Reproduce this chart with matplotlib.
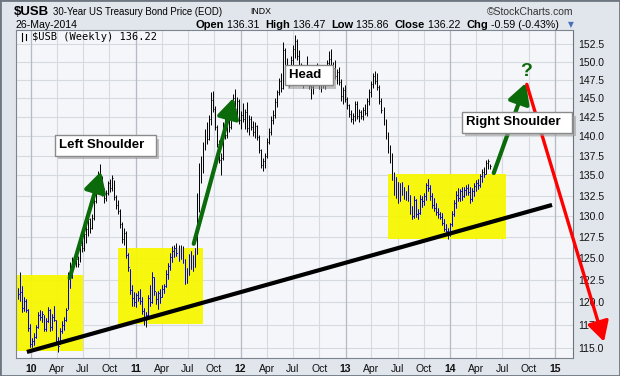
import numpy as np
import pandas as pd
import matplotlib
matplotlib.use("Agg")
import matplotlib.pyplot as plt
import matplotlib.dates as mdates
import matplotlib.patheffects as pe
from matplotlib.collections import LineCollection
from matplotlib.patches import Rectangle
from matplotlib.ticker import FixedLocator, FormatStrFormatter, NullLocator

plt.rcParams["font.family"] = ["Liberation Sans", "DejaVu Sans"]

# ======= Data (weekly bars, $USB) =======
first_week = "2009-11-16"

week_high = [
    121.6, 123.4, 121.8, 120.6, 120.4, 119.3, 117.6, 116.1, 116.6, 117.5, 118.9, 119.1, 119.0,
    118.6, 118.3, 119.5, 119.3, 118.7, 119.6, 118.0, 116.2, 117.2, 117.9, 118.4, 119.4, 123.4,
    124.6, 125.2, 125.2, 125.1, 125.3, 127.0, 127.8, 128.3, 128.9, 130.1, 129.8, 130.2, 132.3,
    134.2, 135.6, 136.4, 134.9, 133.4, 133.2, 134.3, 134.6, 135.0, 134.4, 132.6, 132.0, 130.8,
    129.3, 128.6, 128.2, 125.6, 123.8, 122.0, 121.2, 121.0, 121.3, 121.5, 120.6, 119.4, 118.9,
    120.8, 121.9, 123.4, 122.9, 121.2, 121.3, 121.5, 121.9, 122.1, 123.7, 124.5, 125.6, 126.4,
    126.6, 126.8, 126.5, 126.6, 126.4, 124.9, 123.9, 125.5, 125.8, 125.4, 126.2, 132.8, 136.5,
    137.5, 139.3, 141.0, 141.9, 142.8, 145.8, 146.0, 144.0, 141.5, 139.5, 137.8, 141.8, 142.4,
    142.8, 143.1, 144.2, 145.6, 146.3, 145.2, 144.9, 143.3, 144.4, 143.6, 144.5, 142.8, 142.6,
    142.0, 141.8, 141.5, 140.2, 138.4, 137.2, 137.8, 139.8, 141.1, 142.6, 143.4, 145.0, 146.2,
    147.8, 148.5, 152.8, 152.0, 150.6, 149.0, 150.8, 152.3, 153.8, 153.2, 151.6, 149.8, 148.6,
    149.6, 150.8, 148.6, 147.2, 147.8, 149.2, 149.8, 148.6, 147.8, 148.4, 148.3, 150.3, 151.5,
    151.8, 150.0, 150.2, 149.0, 149.3, 147.6, 146.6, 146.8, 145.2, 144.2, 143.4, 143.0, 144.7,
    144.6, 143.6, 143.5, 143.8, 144.2, 145.0, 146.3, 147.4, 148.4, 148.8, 148.5, 146.8, 145.0,
    143.8, 142.2, 140.6, 138.9, 137.8, 135.4, 134.8, 134.2, 134.0, 134.2, 133.6, 133.0, 133.8,
    132.6, 131.2, 132.4, 132.1, 130.8, 132.6, 132.5, 132.8, 134.1, 134.6, 133.8, 132.8, 132.2,
    131.6, 131.0, 130.5, 130.4, 129.6, 129.0, 128.6, 129.2, 130.6, 131.9, 133.0, 133.4, 133.3,
    133.6, 133.5, 133.8, 133.9, 133.5, 133.4, 134.0, 134.4, 134.6, 135.2, 135.8, 136.0, 137.0,
    137.1, 136.47,
]

week_low = [
    120.4, 120.2, 118.9, 119.0, 118.9, 116.8, 115.1, 115.1, 115.3, 116.1, 117.2, 118.1, 117.8,
    116.8, 116.9, 117.8, 116.8, 117.0, 117.9, 115.4, 114.6, 115.4, 116.6, 117.0, 117.9, 119.3,
    121.6, 122.7, 124.1, 124.0, 124.0, 124.6, 125.7, 125.9, 126.8, 127.6, 128.0, 128.4, 129.5,
    131.6, 133.2, 134.7, 132.4, 131.6, 131.8, 132.6, 132.9, 133.0, 131.9, 130.9, 130.2, 128.6,
    126.8, 126.5, 125.0, 123.5, 120.9, 119.6, 119.6, 119.5, 120.2, 119.8, 118.7, 117.5, 117.3,
    118.4, 119.6, 119.9, 120.8, 119.8, 119.3, 119.9, 120.6, 121.0, 121.7, 122.6, 123.6, 124.6,
    125.1, 125.3, 124.7, 124.9, 124.5, 122.1, 122.2, 123.1, 123.8, 123.5, 124.0, 125.5, 130.5,
    134.0, 135.3, 138.2, 139.0, 139.5, 141.4, 143.2, 140.8, 138.6, 136.5, 135.1, 137.0, 139.6,
    139.8, 140.6, 140.9, 142.9, 143.1, 142.4, 141.6, 140.9, 141.8, 140.9, 140.6, 140.2, 140.8,
    140.0, 139.8, 139.5, 137.8, 135.9, 135.5, 135.9, 137.2, 139.0, 140.2, 141.6, 142.4, 143.8,
    145.5, 145.8, 146.3, 148.4, 147.0, 146.5, 148.4, 149.4, 150.6, 150.3, 148.8, 146.8, 146.4,
    147.3, 148.4, 146.3, 144.9, 145.6, 146.8, 147.6, 146.3, 145.8, 146.4, 146.3, 147.6, 149.2,
    149.0, 147.8, 147.6, 147.0, 146.8, 144.7, 144.3, 144.5, 143.6, 142.5, 141.8, 141.6, 142.0,
    142.3, 141.8, 142.2, 142.1, 142.8, 142.6, 144.1, 145.2, 146.4, 147.0, 146.2, 144.2, 143.0,
    141.4, 139.6, 137.8, 136.6, 134.4, 132.6, 132.2, 131.6, 131.8, 132.6, 132.1, 132.0, 131.8,
    130.2, 129.6, 129.8, 129.9, 129.7, 130.2, 131.1, 131.3, 131.9, 133.0, 132.0, 131.0, 130.6,
    130.1, 129.8, 129.6, 128.9, 128.2, 127.8, 127.3, 127.6, 128.8, 130.0, 131.0, 131.8, 131.8,
    132.0, 132.3, 132.6, 132.6, 131.6, 131.8, 132.4, 133.1, 133.3, 133.6, 134.2, 134.8, 135.2,
    135.8, 135.86,
]

week_close = [
    120.9, 121.2, 119.4, 120.1, 119.2, 117.2, 115.5, 115.8, 116.2, 117.3, 118.6, 118.4, 118.7,
    117.1, 117.9, 119.2, 117.3, 118.4, 118.1, 115.8, 115.2, 116.9, 117.5, 118.1, 119.1, 122.7,
    123.0, 124.8, 124.5, 124.9, 124.4, 126.6, 126.2, 127.9, 128.4, 129.6, 128.6, 129.8, 131.8,
    133.6, 135.2, 135.0, 132.9, 132.2, 132.8, 134.0, 133.4, 134.7, 132.3, 131.4, 130.6, 129.0,
    127.3, 128.0, 125.4, 124.0, 121.4, 120.5, 120.0, 120.8, 120.5, 120.1, 119.0, 118.3, 118.6,
    120.5, 120.0, 122.8, 121.3, 120.4, 121.0, 120.6, 121.5, 121.8, 123.2, 124.1, 125.1, 125.8,
    126.2, 125.6, 125.1, 126.2, 124.8, 122.6, 123.5, 125.0, 124.2, 125.1, 125.6, 131.9, 135.9,
    135.2, 138.9, 140.5, 139.6, 142.2, 144.8, 143.6, 141.2, 139.0, 137.0, 137.2, 141.0, 140.1,
    142.0, 141.2, 143.5, 145.0, 143.6, 144.6, 142.1, 142.8, 142.3, 143.2, 141.1, 142.2, 141.2,
    140.6, 141.3, 139.9, 138.2, 136.3, 136.8, 137.5, 139.3, 140.6, 142.1, 142.8, 144.5, 145.8,
    147.3, 146.4, 151.6, 149.0, 147.6, 148.6, 150.2, 151.8, 152.9, 150.8, 149.4, 147.4, 147.9,
    149.1, 149.2, 146.7, 146.6, 147.2, 148.8, 148.0, 147.0, 147.3, 146.8, 147.9, 149.8, 150.4,
    149.4, 149.2, 148.1, 148.6, 147.2, 145.3, 146.2, 144.9, 144.1, 142.9, 142.3, 142.6, 144.3,
    142.7, 143.2, 142.7, 143.4, 143.0, 144.6, 145.9, 146.9, 148.0, 147.4, 146.6, 144.7, 143.5,
    141.8, 140.2, 138.3, 137.4, 134.9, 133.4, 134.2, 132.0, 133.6, 133.1, 132.4, 132.8, 132.2,
    130.6, 130.0, 131.9, 130.3, 130.4, 132.1, 131.8, 132.4, 133.8, 133.4, 132.4, 131.4, 131.0,
    130.5, 130.2, 129.9, 129.2, 128.5, 128.2, 127.8, 129.0, 130.3, 131.6, 132.6, 132.2, 133.0,
    132.4, 133.2, 133.4, 132.9, 132.1, 133.1, 133.7, 134.1, 133.8, 134.9, 135.4, 135.2, 136.6,
    136.8, 136.22,
]

last_quote = {"Open": 136.31, "High": 136.47, "Low": 135.86, "Close": 136.22}
last_chg, last_pct = -0.59, -0.43

# highlighted zones: (start, end, low, high)
zones = [
    ("2009-11-13", "2010-07-01", 114.7, 123.1),
    ("2010-10-31", "2011-08-23", 117.6, 126.2),
    ("2013-05-29", "2014-07-14", 127.3, 135.2),
]

W, H = 620, 376
n = min(len(week_high), len(week_low), len(week_close))
dates = pd.date_range(first_week, periods=n, freq="7D")
xd = mdates.date2num(dates)
hi = np.array(week_high[:n])
lo = np.array(week_low[:n])
cl = np.array(week_close[:n])

fig = plt.figure(figsize=(W / 100, H / 100), dpi=100, facecolor="#e1e5ec")
ax = fig.add_axes([16 / W, 1 - 358 / H, (573 - 16) / W, (358 - 30) / H])
ax.set_facecolor("#f4f6fa")
ax.set_yscale("log")
ax.set_ylim(113.96, 154.5)
d = lambda s: mdates.date2num(pd.Timestamp(s))
ax.set_xlim(d("2009-11-10"), d("2015-03-04"))

# ======= Axes / grid =======
yt = np.arange(115, 153, 2.5)
ax.yaxis.set_major_locator(FixedLocator(yt))
ax.yaxis.set_minor_locator(NullLocator())
ax.yaxis.set_major_formatter(FormatStrFormatter("%.1f"))
ax.yaxis.tick_right()

qt = pd.date_range("2010-01-01", "2015-01-01", freq="QS")
ax.xaxis.set_major_locator(FixedLocator(mdates.date2num(qt)))
ax.xaxis.set_minor_locator(NullLocator())
ax.set_xticklabels([f"{t.year % 100:02d}" if t.month == 1 else t.strftime("%b") for t in qt])
for lab, t in zip(ax.get_xticklabels(), qt):
    if t.month == 1:
        lab.set_fontweight("bold")
        lab.set_fontsize(8.5)
ax.tick_params(axis="both", length=0, labelsize=7.5, colors="#111111")
ax.tick_params(axis="x", pad=4)
ax.tick_params(axis="y", pad=4)
ax.grid(True, color="#d5d9e0", lw=0.8, zorder=0)
ax.set_axisbelow(True)
for t in qt:
    if t.month == 1:
        ax.axvline(mdates.date2num(t), color="#b7bcc4", lw=0.9, zorder=0.6)

for s in ["left", "bottom", "top"]:
    ax.spines[s].set_color("#7c848e")
ax.spines["right"].set_color("#6c747e")
ax.spines["right"].set_linestyle((0, (1, 1)))

# ======= Zones =======
clip_rects = []
for z0, z1, zl, zh in zones:
    ax.add_patch(Rectangle((d(z0), zl), d(z1) - d(z0), zh - zl, fc="#f7f700",
                           ec="none", alpha=0.94, zorder=1))
    clip_rects.append(Rectangle((d(z0), zl), d(z1) - d(z0), zh - zl, transform=ax.transData))

# ======= HLC bars =======
segs = [[(x, l), (x, h)] for x, l, h in zip(xd, lo, hi)]
segs += [[(x, c), (x + 3, c)] for x, c in zip(xd, cl)]
ax.add_collection(LineCollection(segs, colors="black", lw=0.7, zorder=2))
for r in clip_rects:
    lc = LineCollection(segs, colors="#0000ff", lw=0.7, zorder=2.1)
    ax.add_collection(lc)
    lc.set_clip_path(r)

# ======= Trend line & arrows =======
ax.plot([d("2009-12-18"), d("2014-12-21")], [114.6, 131.35], color="black", lw=3,
        solid_capstyle="butt", zorder=3)

green = "#0b6b0b"
def arrow(p0, p1, color, lw, ms):
    ax.annotate("", xy=p1, xytext=p0, annotation_clip=False,
                arrowprops=dict(arrowstyle="-|>,head_length=0.55,head_width=0.3",
                                color=color, lw=lw, mutation_scale=ms,
                                shrinkA=0, shrinkB=0), zorder=4)

arrow((d("2010-05-16"), 122.75), (d("2010-09-02"), 135.5), green, 3, 22)
arrow((d("2011-07-22"), 126.7), (d("2011-12-08"), 145.1), green, 3, 22)
arrow((d("2014-06-01"), 135.3), (d("2014-09-21"), 147.1), green, 3, 22)
arrow((d("2014-09-24"), 146.9), (d("2015-06-20"), 115.7), "#ff0000", 2.4, 22)
ax.text(d("2014-09-21"), 148.7, "?", color=green, fontsize=14, fontweight="bold",
        ha="center", va="center", zorder=5)

# ======= Labels =======
def label(xs, yv, s):
    t = ax.text(d(xs), yv, s + "  ", fontsize=9.5, fontweight="bold", ha="left", va="center",
                zorder=6, bbox=dict(boxstyle="square,pad=0.32", fc="white", ec="#8a8a8a", lw=1))
    t.get_bbox_patch().set_path_effects([
        pe.SimplePatchShadow(offset=(2.5, -2.5), shadow_rgbFace="#9a9a9a", alpha=0.6),
        pe.Normal()])

label("2010-04-08", 138.8, "Left Shoulder")
label("2012-06-18", 148.2, "Head")
label("2014-02-25", 141.8, "Right Shoulder")

# legend inside plot
fig.text(32 / W, 1 - 37 / H, "$USB (Weekly) 136.22", fontsize=7.5,
         family="DejaVu Sans Mono", va="center", ha="left")
for xp, y0, y1 in [(21.5, 33, 41), (25.5, 34, 40)]:
    fig.add_artist(plt.Line2D([xp / W, xp / W], [1 - y1 / H, 1 - y0 / H], color="black", lw=0.8))

# ======= Header =======
fig.text(14 / W, 1 - 12 / H, "$USB", fontsize=9.5, fontweight="bold", va="center")
fig.text(53 / W, 1 - 12 / H, "30-Year US Treasury Bond Price (EOD)", fontsize=6.9, va="center")
fig.text(250 / W, 1 - 12 / H, "INDX", fontsize=6.3, va="center")
fig.text(573 / W, 1 - 12 / H, "\u00a9StockCharts.com", fontsize=7.5, color="#333333",
         va="center", ha="right")
fig.text(15 / W, 1 - 25 / H, "26-May-2014", fontsize=7.6, va="center")

pieces = []
for k, v in last_quote.items():
    pieces += [(k, "bold"), (f" {v:.2f}  ", "normal")]
pieces += [("Chg", "bold"), (f" {last_chg:.2f} ({last_pct:.2f}%)", "normal")]
renderer = fig.canvas.get_renderer()
xp = 195
for s, wgt in pieces:
    t = fig.text(xp / W, 1 - 25 / H, s, fontsize=8.0 if wgt == "bold" else 7.7,
                 fontweight=wgt, va="center")
    xp += t.get_window_extent(renderer).width
fig.text(571 / W, 1 - 25 / H, "\u25bc", fontsize=5.5, color="#4a6fb5", va="center",
         ha="center", family="DejaVu Sans")

fig.add_artist(Rectangle((0, 0), 1, 1, transform=fig.transFigure, fill=False,
                         ec="#6e7681", lw=2))

fig.savefig("out.png", dpi=100, facecolor=fig.get_facecolor())
